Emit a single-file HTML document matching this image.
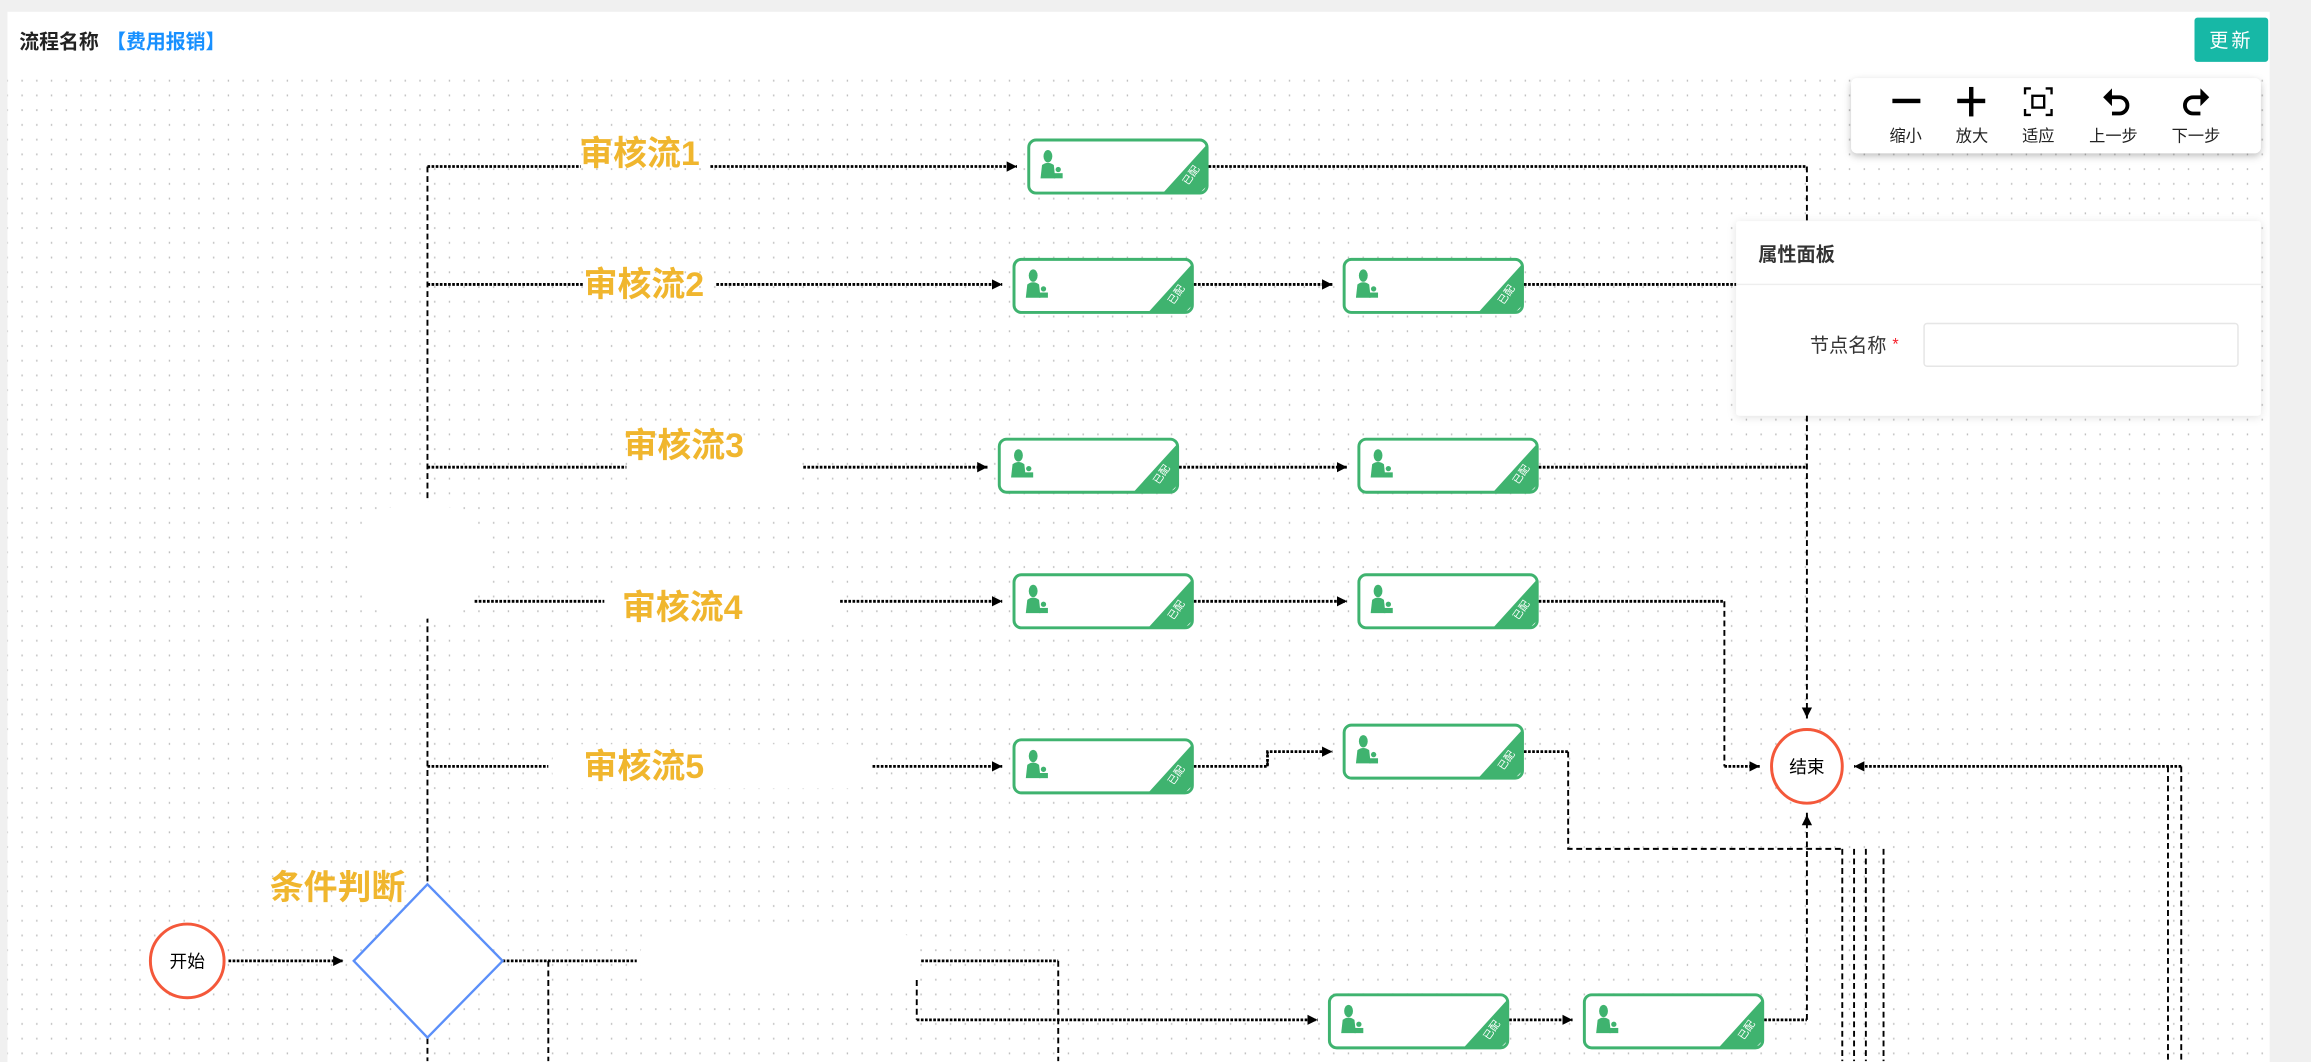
<!DOCTYPE html>
<html><head><meta charset="utf-8"><style>
html,body{margin:0;padding:0;background:#f0f0f0;}
svg{display:block;font-family:"Liberation Sans","Noto Sans CJK SC",sans-serif;}
</style></head><body>
<svg width="2311" height="1062" viewBox="0 0 1568 720.6" xmlns="http://www.w3.org/2000/svg">
<defs>
<pattern id="dots" x="0" y="0" width="10" height="10" patternUnits="userSpaceOnUse"><rect x="4.5" y="4.1" width="0.9" height="1.3" fill="#bdbdbd"/></pattern>
<marker id="ar" markerWidth="8" markerHeight="8" refX="7" refY="4" orient="auto" markerUnits="userSpaceOnUse"><path d="M0,0.5 L7,4 L0,7.5 Z" fill="#000"/></marker>
<filter id="sh" x="-10%" y="-20%" width="120%" height="150%"><feDropShadow dx="0" dy="2" stdDeviation="2.5" flood-color="#000" flood-opacity="0.25"/></filter>
<filter id="sh2" x="-10%" y="-10%" width="120%" height="130%"><feDropShadow dx="0" dy="1" stdDeviation="3" flood-color="#000" flood-opacity="0.12"/></filter>
<g id="node">
<rect x="1" y="1" width="121" height="36" rx="5" fill="#fff" stroke="#3fb36f" stroke-width="2"/>
<polygon points="92,37 122,4 122,32 117,37" fill="#3fb36f"/>
<text x="109" y="32" font-size="7" fill="#fff" transform="rotate(-55 109 32)">已配</text>
<ellipse cx="14" cy="12" rx="3" ry="4.2" fill="#3fb36f"/>
<path d="M9,27 L10,18 Q14,15 18,18 L19,27 Z" fill="#3fb36f"/>
<circle cx="21" cy="21" r="1.8" fill="#3fb36f"/>
<rect x="18" y="23.5" width="6" height="3.5" fill="#3fb36f"/>
</g>
</defs>
<rect x="0" y="0" width="1568" height="720.6" fill="#f0f0f0"/>
<rect x="5" y="8" width="1535" height="713" fill="#fff"/>
<rect x="5" y="50" width="1535" height="671" fill="url(#dots)"/>
<text x="13" y="33" font-size="13.5" font-weight="bold" fill="#222">流程名称</text>
<text x="72" y="33" font-size="13.5" font-weight="bold" fill="#1890ff">【费用报销】</text>
<rect x="1489" y="12" width="50" height="30" rx="2" fill="#17b8a6"/>
<text x="1514" y="32" font-size="13" fill="#fff" text-anchor="middle" letter-spacing="2">更新</text>

<g fill="none" stroke="#000">
<g stroke-width="1.3" stroke-dasharray="4 2.5">
<path d="M290,113 V720"/>
<path d="M372,652 V720"/>
<path d="M718,652 V720"/>
<path d="M1226,113 V490"/>
<path d="M1170,408 V520"/>
<path d="M1064,510 V576 H1250"/>
<path d="M1250,576 V720 M1258,576 V720 M1266,576 V720 M1278,576 V720"/>
<path d="M1226,692 V550"/>
<path d="M1471,520 V720 M1480,520 V720"/>
<path d="M622,665 V692"/>
<path d="M860,520 V510"/>
</g>
<g stroke-width="1.9" stroke-dasharray="1.8 1">
<path d="M290,113 H394 M482,113 H690" marker-end="url(#ar)"/>
<path d="M820,113 H1226"/>
<path d="M290,193 H396 M486,193 H680" marker-end="url(#ar)"/>
<path d="M810,193 H904" marker-end="url(#ar)"/>
<path d="M1034,193 H1180"/>
<path d="M290,317 H425 M545,317 H670" marker-end="url(#ar)"/>
<path d="M800,317 H914" marker-end="url(#ar)"/>
<path d="M1044,317 H1226"/>
<path d="M322,408 H410 M570,408 H680" marker-end="url(#ar)"/>
<path d="M810,408 H914" marker-end="url(#ar)"/>
<path d="M1044,408 H1170"/>
<path d="M1170,520 H1194" marker-end="url(#ar)"/>
<path d="M290,520 H372 M592,520 H680" marker-end="url(#ar)"/>
<path d="M810,520 H860 V510 H904" marker-end="url(#ar)"/>
<path d="M1034,510 H1064"/>
<path d="M1480,520 H1258" marker-end="url(#ar)"/>
<path d="M155,652 H233" marker-end="url(#ar)"/>
<path d="M341,652 H432 M625,652 H718"/>
<path d="M622,692 H894" marker-end="url(#ar)"/>
<path d="M1024,692 H1067" marker-end="url(#ar)"/>
<path d="M1197,692 H1226"/>
</g>
<path d="M1226,480 V487" stroke-width="1.2" marker-end="url(#ar)"/>
<path d="M1226,560 V553" stroke-width="1.2" marker-end="url(#ar)"/>
</g>

<ellipse cx="285" cy="380" rx="45" ry="40" fill="#fff"/>
<rect x="426" y="300" width="118" height="40" fill="#fff" rx="15"/>
<rect x="412" y="393" width="156" height="36" fill="#fff" rx="15"/>
<rect x="374" y="505" width="216" height="30" fill="#fff" rx="15"/>
<rect x="434" y="632" width="190" height="38" fill="#fff" rx="18"/>

<g font-size="23" font-weight="bold" fill="#f0b62e">
<text x="393" y="112">审核流1</text>
<text x="396" y="201">审核流2</text>
<text x="423" y="310">审核流3</text>
<text x="422" y="420">审核流4</text>
<text x="396" y="528">审核流5</text>
<text x="183" y="610">条件判断</text>
</g>

<use href="#node" x="697" y="94"/>
<use href="#node" x="687" y="175"/>
<use href="#node" x="911" y="175"/>
<use href="#node" x="677" y="297"/>
<use href="#node" x="921" y="297"/>
<use href="#node" x="687" y="389"/>
<use href="#node" x="921" y="389"/>
<use href="#node" x="687" y="501"/>
<use href="#node" x="911" y="491"/>
<use href="#node" x="901" y="674"/>
<use href="#node" x="1074" y="674"/>

<ellipse cx="127" cy="652" rx="25" ry="25" fill="#fff" stroke="#f4583a" stroke-width="2"/>
<text x="127" y="656.5" font-size="12" text-anchor="middle" fill="#000">开始</text>
<ellipse cx="1226" cy="520" rx="24" ry="25" fill="#fff" stroke="#f4583a" stroke-width="2"/>
<text x="1226" y="524.5" font-size="12" text-anchor="middle" fill="#000">结束</text>
<polygon points="290,600 341,652 290,704 240,652" fill="#fff" stroke="#5b8ff9" stroke-width="1.6"/>

<rect x="1256" y="53" width="278" height="51" rx="4" fill="#fff" filter="url(#sh)"/>
<g fill="#000" stroke="#000">
<rect x="1284" y="67" width="19" height="3" stroke="none"/>
<rect x="1328" y="67" width="19" height="3" stroke="none"/><rect x="1336" y="59" width="3" height="20" stroke="none"/>
<path d="M1374,64 V60 H1378 M1388,60 H1392 V64 M1392,74 V78 H1388 M1378,78 H1374 V74" fill="none" stroke-width="1.6"/>
<rect x="1379" y="65" width="8" height="8" fill="none" stroke-width="1.6"/>
<path d="M1432,66 H1438 A5,5 0 0 1 1438,77 H1433" fill="none" stroke-width="2.6"/>
<path d="M1427,66 L1433,60 L1433,72 Z" stroke="none"/>
<path d="M1494,66 H1488 A5,5 0 0 0 1488,77 H1493" fill="none" stroke-width="2.6"/>
<path d="M1499,66 L1493,60 L1493,72 Z" stroke="none"/>
</g>
<g font-size="11" fill="#222" text-anchor="middle">
<text x="1293" y="96">缩小</text><text x="1338" y="96">放大</text><text x="1383" y="96">适应</text><text x="1434" y="96">上一步</text><text x="1490" y="96">下一步</text>
</g>

<rect x="1178" y="150" width="356" height="132" rx="2" fill="#fff" filter="url(#sh2)"/>
<line x1="1178" y1="193" x2="1534" y2="193" stroke="#eee"/>
<text x="1193" y="177" font-size="13" font-weight="bold" fill="#333">属性面板</text>
<text x="1228" y="239" font-size="13" fill="#333">节点名称</text>
<text x="1284" y="237" font-size="11" fill="#f5222d">*</text>
<rect x="1305.5" y="219.5" width="213" height="29" rx="2" fill="#fff" stroke="#e6e6e6"/>
</svg>
</body></html>
